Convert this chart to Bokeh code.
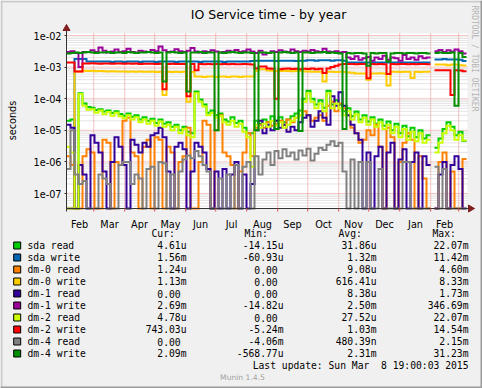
import numpy as np
import pandas as pd
from bokeh.plotting import figure
from bokeh.models import Range1d, FixedTicker, CustomJSTickFormatter
from bokeh.core.properties import value
from bokeh.embed import file_html
from bokeh.resources import INLINE

nan = float("nan")

# ---------------- texts ----------------
TITLE = "IO Service time - by year"
Y_LABEL = "seconds"
WATERMARK = "RRDTOOL / TOBI OETIKER"
LAST_UPDATE = "Last update: Sun Mar\u00a0\u00a08 19:00:03 2015"
VERSION = "Munin 1.4.5"
HEADERS = ["Cur:", "Min:", "Avg:", "Max:"]

# ---------------- time axis ----------------
START = "2014-02-01 19:00"
MONTH_STARTS = ["2014-02-01", "2014-03-01", "2014-04-01", "2014-05-01", "2014-06-01",
                "2014-07-01", "2014-08-01", "2014-09-01", "2014-10-01", "2014-11-01",
                "2014-12-01", "2015-01-01", "2015-02-01", "2015-03-01"]
MONTH_LABELS = ["Feb", "Mar", "Apr", "May", "Jun", "Jul", "Aug", "Sep", "Oct", "Nov",
                "Dec", "Jan", "Feb"]
Y_TICKS = [1e-7, 1e-6, 1e-5, 1e-4, 1e-3, 1e-2]
SAMPLE_STEP = 4  # days per sample

# ---------------- series ----------------
NAMES = ["sda read", "sda write", "dm-0 read", "dm-0 write", "dm-1 read",
         "dm-1 write", "dm-2 read", "dm-2 write", "dm-4 read", "dm-4 write"]
COLORS = ["#00CC00", "#0066B3", "#FF8000", "#FFCC00", "#330099",
          "#990099", "#CCFF00", "#FF0000", "#808080", "#008F00"]

SDA_READ = [
    2.0e-5, 2.2e-5, 0, 1.5e-4, 7.0e-5, 5.5e-5, 5.2e-5, 4.4e-5, 4.6e-5, 3.9e-5,
    4.2e-5, 3.5e-5, 4.0e-5, 3.3e-5, 2.9e-5, 3.4e-5, 2.7e-5, 3.0e-5, 2.2e-5, 2.6e-5,
    2.0e-5, 2.3e-5, 1.7e-5, 2.2e-5, 1.6e-5, 1.8e-5, 1.3e-5, 1.5e-5, 1.0e-5, 1.3e-5,
    9.0e-6, 8.0e-6, 1.7e-4, 9.5e-5, 6.5e-5, 3.6e-5, 4.2e-5, 3.0e-5, 3.4e-5, 2.2e-5,
    1.9e-5, 2.6e-5, 1.7e-5, 2.0e-5, 1.2e-5, 8.0e-6, 8.0e-6, 2.0e-5, 1.6e-5, 2.2e-5,
    1.8e-5, 2.8e-5, 2.0e-5, 2.6e-5, 1.8e-5, 2.2e-5, 2.8e-5, 3.4e-5, 4.2e-5, 1.0e-4,
    1.8e-4, 1.0e-4, 6.5e-5, 9.0e-5, 5.2e-5, 1.8e-4, 6.5e-5, 9.0e-5, 6.5e-5, 4.0e-5,
    5.0e-5, 2.8e-5, 3.9e-5, 2.2e-5, 3.0e-5, 1.9e-5, 2.6e-5, 1.6e-5, 2.2e-5, 1.4e-5,
    1.9e-5, 1.0e-5, 1.6e-5, 8.0e-6, 1.4e-5, 6.5e-6, 1.2e-5, 6.0e-6, 1.0e-5, 5.5e-6,
    7.0e-6, nan, 2.8e-6, 5.5e-6, 1.1e-5, 1.8e-5, 1.3e-5, 7.0e-6, 9.0e-6, 4.61e-6]
SDA_WRITE = [
    0, 0, 1.8e-3, 1.8e-3, 1.8e-3, 1.5e-3, 1.5e-3, 1.5e-3, 1.5e-3, 1.5e-3,
    1.5e-3, 1.45e-3, 1.5e-3, 1.5e-3, 1.45e-3, 1.5e-3, 1.5e-3, 1.5e-3, 1.45e-3, 1.5e-3,
    1.5e-3, 1.5e-3, 1.45e-3, 1.5e-3, 1.5e-3, 1.5e-3, 1.5e-3, 1.45e-3, 1.5e-3, 1.5e-3,
    1.5e-3, 1.5e-3, 1.5e-3, 1.45e-3, 1.5e-3, 1.5e-3, 1.5e-3, 1.5e-3, 1.5e-3, 1.45e-3,
    1.5e-3, 1.5e-3, 1.5e-3, 1.5e-3, 1.5e-3, 1.5e-3, 1.55e-3, 1.6e-3, 1.6e-3, 1.6e-3,
    1.6e-3, 1.6e-3, 1.55e-3, 1.6e-3, 1.6e-3, 1.6e-3, 1.6e-3, 1.55e-3, 1.6e-3, 1.6e-3,
    1.65e-3, 1.65e-3, 1.6e-3, 1.65e-3, 1.65e-3, 1.65e-3, 1.6e-3, 1.65e-3, 1.65e-3, 1.6e-3,
    1.4e-3, 1.4e-3, 1.4e-3, 1.4e-3, 1.4e-3, 1.4e-3, 1.4e-3, 1.4e-3, 1.4e-3, 1.4e-3,
    1.4e-3, 1.4e-3, 1.4e-3, 1.4e-3, 1.4e-3, 1.4e-3, 1.4e-3, 1.4e-3, 1.4e-3, 1.4e-3,
    1.4e-3, nan, 1.75e-3, 1.75e-3, 1.8e-3, 1.75e-3, 1.75e-3, 1.75e-3, 1.7e-3, 1.56e-3]
DM0_READ = [
    1.5e-6, 8e-7, 0, 0, 1.5e-6, 2.5e-6, 2e-6, 0, 0, 5e-6,
    4e-6, 0, 1e-6, 8e-7, 2e-5, 2.5e-5, 2e-6, 1.5e-6, 0, 3e-6,
    5e-6, 0, 6e-6, 5e-6, 0, 3e-6, 2e-6, 0, 1e-6, 1.5e-6,
    1.2e-5, 0, 0, 1e-6, 2e-5, 1.5e-5, 0, 1e-5, 3e-5, 2e-6,
    1.5e-6, 8e-7, 0, 5e-7, 2e-6, 8e-6, 1.5e-6, 1.2e-5, 1.5e-5, 1.2e-5,
    1.8e-5, 1.4e-5, 1.6e-5, 2e-5, 1.5e-5, 2.2e-5, 1.8e-5, 2.5e-5, 3e-5, 4e-5,
    3e-5, 2e-5, 2.5e-5, 3e-5, 2e-5, 6e-5, 8e-5, 4e-5, 7e-5, 5e-5,
    3e-5, 1.2e-5, 8e-6, 4e-6, 5e-6, 1e-5, 7e-6, 1.5e-5, 3e-6, 0,
    1.2e-5, 6e-6, 0, 1e-6, 4e-6, 8e-6, 5e-6, 0, 1.5e-6, 3e-7,
    0, nan, 0, 1e-6, 2e-6, 0, 5e-7, 0, 0, 1.24e-6]
DM0_WRITE = [
    0, 0, 7.3e-4, 7.3e-4, 7.6e-4, 7.5e-4, 7.6e-4, 7.4e-4, 7.5e-4, 7.4e-4,
    7.3e-4, 7.4e-4, 7.3e-4, 7.2e-4, 7.3e-4, 7.1e-4, 7.2e-4, 7.1e-4, 7.2e-4, 7.1e-4,
    7.1e-4, 7.2e-4, 7.0e-4, 7.1e-4, 1.3e-4, 7.1e-4, 7.0e-4, 7.1e-4, 7.0e-4, 7.1e-4,
    8e-5, 7.0e-4, 5.0e-4, 5.0e-4, 4.9e-4, 5.0e-4, 5.0e-4, 4.9e-4, 5.0e-4, 5.0e-4,
    4.9e-4, 5.0e-4, 5.0e-4, 4.9e-4, 5.0e-4, 5.0e-4, 5.0e-4, 7.5e-4, 8.5e-4, 8.5e-4,
    7.8e-4, 7.6e-4, 7.5e-4, 7.5e-4, 7.6e-4, 7.5e-4, 7.4e-4, 7.5e-4, 7.5e-4, 7.3e-4,
    7.2e-4, 7.1e-4, 7.1e-4, 7.1e-4, 3.5e-4, 7.1e-4, 7.1e-4, 7.0e-4, 7.1e-4, 7.0e-4,
    6.8e-4, 6.6e-4, 6.3e-4, 6.3e-4, 6.3e-4, 4.0e-4, 6.3e-4, 6.3e-4, 6.4e-4, 6.3e-4,
    2.6e-4, 7.1e-4, 7.1e-4, 7.0e-4, 7.1e-4, 7.1e-4, 4.5e-4, 7.1e-4, 7.0e-4, 7.1e-4,
    7.1e-4, nan, 1.2e-3, 1.2e-3, 1.2e-3, 1.15e-3, 1.2e-3, 1.2e-3, 1.15e-3, 1.13e-3]
DM1_READ = [
    1.5e-5, 1.2e-5, 0, 8e-7, 4e-7, 0, 7e-6, 4e-6, 2e-6, 5e-7,
    0, 1e-6, 6e-6, 3e-6, 8e-7, 0, 5e-6, 3.5e-6, 2e-6, 4e-6,
    3e-6, 7e-6, 8e-6, 1.2e-5, 6e-6, 5e-7, 0, 3e-6, 4e-6, 2.5e-6,
    0, 5e-7, 4e-6, 3e-6, 2e-6, 6e-7, 0, 5e-7, 0, 6e-7,
    0, 4e-7, 1e-6, 0, 4e-7, 0, 2e-7, 1e-5, 2e-5, 8e-6,
    1.5e-5, 1e-5, 2e-5, 1.2e-5, 1.5e-5, 9e-6, 1.3e-5, 1e-5, 1.8e-5, 2.5e-5,
    3e-5, 1.3e-5, 2e-5, 4e-5, 2.5e-5, 1.5e-5, 1.2e-4, 6e-5, 1.6e-4, 6e-5,
    3e-5, 1.5e-5, 8e-6, 5e-6, 0, 2e-6, 0, 1.5e-6, 3e-6, 0,
    2e-6, 4e-6, 0, 1.2e-6, 2.5e-6, 0, 1e-6, 2e-6, 0, 1.5e-6,
    8e-7, nan, 0, 4e-7, 1e-6, 0, 8e-7, 1.5e-6, 6e-7, 0]
DM1_WRITE = [
    3.0e-3, 3.2e-3, 2.8e-3, 1.0e-3, 3.0e-3, 3.0e-3, 3.4e-3, 3.0e-3, 4.2e-3, 3.3e-3,
    2.9e-3, 3.1e-3, 3.6e-3, 3.0e-3, 3.2e-3, 3.8e-3, 3.0e-3, 2.9e-3, 3.3e-3, 3.1e-3,
    3.0e-3, 3.5e-3, 3.2e-3, 4.5e-3, 3.4e-3, 3.0e-3, 3.1e-3, 3.7e-3, 3.2e-3, 3.0e-3,
    3.3e-3, 4.0e-3, 3.1e-3, 2.9e-3, 3.2e-3, 3.0e-3, 3.4e-3, 3.1e-3, 2.9e-3, 3.0e-3,
    3.3e-3, 3.1e-3, 3.5e-3, 3.0e-3, 3.2e-3, 3.6e-3, 3.1e-3, 2.8e-3, 3.3e-3, 2.5e-3,
    2.8e-3, 3.2e-3, 3.0e-3, 3.4e-3, 3.1e-3, 3.0e-3, 3.6e-3, 3.2e-3, 3.0e-3, 3.3e-3,
    3.1e-3, 3.5e-3, 3.2e-3, 3.0e-3, 3.8e-3, 3.1e-3, 3.0e-3, 3.2e-3, 2.9e-3, 3.0e-3,
    2.0e-3, 1.8e-3, 2.2e-3, 1.7e-3, 1.9e-3, 2.1e-3, 1.6e-3, 2.0e-3, 1.8e-3, 2.3e-3,
    1.7e-3, 2.0e-3, 1.9e-3, 1.6e-3, 2.4e-3, 1.8e-3, 2.0e-3, 1.7e-3, 2.2e-3, 1.9e-3,
    2.0e-3, nan, 3.2e-3, 3.5e-3, 3.0e-3, 3.4e-3, 3.1e-3, 3.6e-3, 3.2e-3, 2.69e-3]
DM2_READ = [
    3e-6, 2e-6, 0, 1.4e-4, 6e-5, 4.5e-5, 4.6e-5, 3.6e-5, 4.2e-5, 3.2e-5,
    3.8e-5, 2.9e-5, 3.6e-5, 2.8e-5, 2.4e-5, 3.0e-5, 2.2e-5, 2.6e-5, 1.8e-5, 2.2e-5,
    1.6e-5, 2.0e-5, 1.4e-5, 1.9e-5, 1.3e-5, 1.5e-5, 1.0e-5, 1.3e-5, 8e-6, 1.1e-5,
    7e-6, 6e-6, 1.5e-4, 8e-5, 5.7e-5, 3e-5, 3.5e-5, 2.5e-5, 2.8e-5, 1.8e-5,
    1.5e-5, 2e-5, 1.3e-5, 1.6e-5, 9e-6, 6e-6, 7e-7, 1.5e-5, 1.2e-5, 1.6e-5,
    1.3e-5, 2e-5, 1.4e-5, 1.8e-5, 1.2e-5, 1.5e-5, 2e-5, 2.5e-5, 3e-5, 8e-5,
    1.5e-4, 8e-5, 5e-5, 7e-5, 4e-5, 1.5e-4, 5e-5, 7e-5, 5e-5, 3e-5,
    4e-5, 2.2e-5, 3.2e-5, 1.8e-5, 2.5e-5, 1.5e-5, 2.2e-5, 1.3e-5, 1.8e-5, 1.1e-5,
    1.5e-5, 8e-6, 1.3e-5, 6e-6, 1.1e-5, 5e-6, 9e-6, 4.5e-6, 8e-6, 4e-6,
    5e-6, nan, 2e-6, 4e-6, 8e-6, 1.4e-5, 1e-5, 5e-6, 7e-6, 4.78e-6]
DM2_WRITE = [
    1.4e-3, 1.4e-3, 7.3e-4, 7.3e-4, 1.3e-3, 1.3e-3, 1.32e-3, 1.3e-3, 1.28e-3, 1.3e-3,
    1.3e-3, 1.28e-3, 1.3e-3, 1.3e-3, 1.27e-3, 1.3e-3, 1.28e-3, 1.3e-3, 1.26e-3, 1.28e-3,
    1.27e-3, 1.28e-3, 1.26e-3, 1.27e-3, 2.0e-4, 1.26e-3, 1.27e-3, 1.25e-3, 1.26e-3, 1.25e-3,
    1.2e-4, 1.25e-3, 8.0e-4, 1.25e-3, 1.24e-3, 1.25e-3, 1.23e-3, 1.25e-3, 1.24e-3, 1.25e-3,
    1.24e-3, 1.25e-3, 1.23e-3, 1.24e-3, 1.25e-3, 1.22e-3, 1.2e-3, 9.0e-4, 1.05e-3, 1.05e-3,
    9.0e-4, 8.8e-4, 1.0e-4, 8.6e-4, 8.8e-4, 9.0e-4, 8.7e-4, 8.8e-4, 8.6e-4, 8.8e-4,
    8.7e-4, 9.0e-4, 8.6e-4, 8.8e-4, 6.5e-4, 9.0e-4, 1.0e-3, 1.1e-3, 1.2e-3, 1.25e-3,
    1.25e-3, 1.26e-3, 1.24e-3, 1.25e-3, 1.25e-3, 4.4e-4, 1.25e-3, 1.24e-3, 1.25e-3, 1.24e-3,
    6.0e-4, 1.25e-3, 1.24e-3, 1.25e-3, 1.26e-3, 1.24e-3, 1.25e-3, 1.24e-3, 1.25e-3, 1.25e-3,
    1.24e-3, nan, 8.0e-4, 8.0e-4, 7.9e-4, 8.0e-4, 1.3e-4, 8.0e-4, 7.8e-4, 7.43e-4]
DM4_READ = [
    6e-7, 1e-5, 4e-7, 2e-7, 2.5e-7, 0, 0, 0, 4e-7, 3e-7,
    2e-7, 0, 0, 8e-7, 1e-6, 1e-6, 2e-7, 4e-7, 3e-7, 0,
    6e-7, 7e-7, 0, 1e-6, 9e-7, 0, 4e-7, 0, 5e-7, 1.2e-6,
    1.6e-6, 1.3e-6, 2.2e-6, 1.5e-6, 8e-7, 5e-7, 0, 0, 3e-7, 0,
    4e-7, 0, 8e-7, 0, 7e-7, 1e-6, 0, 1.5e-6, 4e-7, 1.2e-6,
    2e-6, 8e-7, 2.2e-6, 1.3e-6, 2.5e-6, 1.5e-6, 2e-6, 1.2e-6, 2.3e-6, 1.6e-6,
    2.6e-6, 1.1e-6, 1.8e-6, 2.8e-6, 2.4e-6, 3.5e-6, 4.5e-6, 3.2e-6, 4e-6, 5e-7,
    0, 1.2e-6, 0, 1e-6, 0, 1e-6, 0, 0, 6e-7, 0,
    0, 0, 0, 0, 1e-6, 1e-6, 0, 0, 0, 0,
    0, nan, 7e-7, 0, 6e-7, 0, 0, 0, 0, 0]
DM4_WRITE = [
    2.7e-3, 2.8e-3, 2.9e-3, 2.8e-3, 2.9e-3, 3.0e-3, 2.9e-3, 2.8e-3, 2.9e-3, 2.9e-3,
    3.0e-3, 2.8e-3, 2.9e-3, 2.9e-3, 2.8e-3, 3.0e-3, 2.9e-3, 2.8e-3, 2.9e-3, 2.9e-3,
    3.0e-3, 2.9e-3, 2.8e-3, 2.9e-3, 3.5e-4, 2.9e-3, 3.0e-3, 2.9e-3, 2.8e-3, 2.9e-3,
    1.7e-4, 2.9e-3, 2.9e-3, 3.0e-3, 2.8e-3, 2.9e-3, 2.9e-3, 1.0e-5, 2.9e-3, 2.8e-3,
    2.9e-3, 3.0e-3, 2.9e-3, 2.8e-3, 2.9e-3, 2.9e-3, 2.8e-3, 1.0e-5, 2.9e-3, 2.9e-3,
    2.8e-3, 2.9e-3, 1.1e-5, 2.9e-3, 3.0e-3, 2.9e-3, 2.8e-3, 2.9e-3, 9.5e-6, 2.9e-3,
    2.9e-3, 2.8e-3, 2.9e-3, 2.9e-3, 3.0e-3, 2.8e-3, 2.9e-3, 2.8e-3, 2.7e-3, 1.1e-5,
    2.8e-3, 2.7e-3, 2.8e-3, 2.8e-3, 2.7e-3, 1.1e-3, 2.8e-3, 2.7e-3, 2.8e-3, 2.8e-3,
    1.5e-3, 2.7e-3, 2.8e-3, 2.8e-3, 2.7e-3, 2.8e-3, 2.8e-3, 2.7e-3, 2.8e-3, 2.8e-3,
    2.7e-3, nan, 2.8e-3, 2.9e-3, 2.8e-3, 2.8e-3, 2.9e-3, 6.0e-5, 2.8e-3, 2.09e-3]
SERIES = [SDA_READ, SDA_WRITE, DM0_READ, DM0_WRITE, DM1_READ,
          DM1_WRITE, DM2_READ, DM2_WRITE, DM4_READ, DM4_WRITE]

CUR = ["4.61u", "1.56m", "1.24u", "1.13m", "0.00", "2.69m", "4.78u", "743.03u", "0.00", "2.09m"]
MIN = ["-14.15u", "-60.93u", "0.00", "0.00", "0.00", "-14.82u", "0.00", "-5.24m", "-4.06m", "-568.77u"]
AVG = ["31.86u", "1.32m", "9.08u", "616.41u", "8.38u", "2.50m", "27.52u", "1.03m", "480.39n", "2.31m"]
MAX = ["22.07m", "11.42m", "4.60m", "8.33m", "1.73m", "346.69m", "22.07m", "14.54m", "2.15m", "31.23m"]

# ---------------- layout geometry (page pixels; Bokeh's page has no body margin) ----------------
MARGIN = 0
W, H = 482, 388
PX_DECADE = 31.6
Y_TOP_TICK_PX = 35.0      # page y of 1e-02
CANVAS_TOP_PX, AXIS_PX = 33.0, 208.0
AXIS_LEFT_PX = 66.0       # page x of day 0
BG = "#F0F0F0"
SANS = "DejaVu Sans"
MONO = "DejaVu Sans Mono"
FS = "9.7px"


def y_at(page_y):
    return 10 ** (-2 - (page_y - Y_TOP_TICK_PX) / PX_DECADE)


def dx(page_x):
    return page_x - AXIS_LEFT_PX


Y_CANVAS_TOP = y_at(CANVAS_TOP_PX)
Y_AXIS = y_at(AXIS_PX)
N = len(SDA_READ)
X_END = N * SAMPLE_STEP

t0 = pd.Timestamp(START)
m_days = ((pd.to_datetime(MONTH_STARTS) - t0) / pd.Timedelta(days=1)).to_numpy()
grid_days = [float(d) for d in m_days if 0 < d < X_END + 1]
mid_days = [int(round((a + b) / 2)) for a, b in zip(m_days[:-1], m_days[1:])]

p = figure(width=W, height=H,
           x_range=Range1d(dx(MARGIN), dx(MARGIN + W)),
           y_range=Range1d(y_at(MARGIN + H), y_at(MARGIN)), y_axis_type="log",
           output_backend="svg", toolbar_location=None, title_location=None,
           min_border=0, min_border_left=0, min_border_right=0,
           min_border_top=0, min_border_bottom=0,
           background_fill_color=BG, border_fill_color=BG, outline_line_color=None)
p.grid.visible = False

# image bevel (light top/left, dark bottom/right)
p.quad(left=[dx(0), dx(0)], right=[dx(W), dx(2)], bottom=[y_at(2), y_at(H)],
       top=[y_at(0), y_at(0)], fill_color="#CBCBCB", line_color=None)
p.quad(left=[dx(0), dx(W - 2)], right=[dx(W), dx(W)], bottom=[y_at(H), y_at(H)],
       top=[y_at(H - 2), y_at(0)], fill_color="#999999", line_color=None)

# white canvas
p.quad(left=[0], right=[X_END + 1], bottom=[Y_AXIS], top=[Y_CANVAS_TOP],
       fill_color="white", line_color=None)

# grid
gy_minor, gy_major = [], []
for e in range(-8, -1):
    for k in range(1, 10):
        v = k * 10.0 ** e
        if Y_AXIS < v <= Y_CANVAS_TOP:
            (gy_major if k == 1 else gy_minor).append(v)
p.segment(x0=[0] * len(gy_minor), x1=[X_END + 1] * len(gy_minor), y0=gy_minor, y1=gy_minor,
          line_color="#C8C8C8", line_width=1, line_dash="1 1")
p.segment(x0=[0] * len(gy_major), x1=[X_END + 1] * len(gy_major), y0=gy_major, y1=gy_major,
          line_color="#F08A8A", line_width=1, line_dash="1 1")
p.segment(x0=grid_days, x1=grid_days, y0=[Y_AXIS] * len(grid_days),
          y1=[Y_CANVAS_TOP] * len(grid_days),
          line_color="#F08A8A", line_width=1, line_dash="1 1")

# data (rrd steps)
days = np.arange(N) * SAMPLE_STEP
for vals, col in zip(SERIES, COLORS):
    v = np.array(vals, dtype=float)
    v = np.where(np.isnan(v) | (v > 0), v, Y_AXIS)
    xs = np.column_stack([days, days + SAMPLE_STEP]).ravel()
    ys = np.repeat(v, 2)
    p.line(xs, ys, line_color=col, line_width=2, line_join="miter")

# axis lines, month ticks, arrows
p.segment(x0=[0], x1=[dx(471)], y0=[Y_AXIS], y1=[Y_AXIS], line_color="#333333", line_width=1)
p.segment(x0=[0], x1=[0], y0=[y_at(AXIS_PX + 3)], y1=[y_at(28)], line_color="#333333",
          line_width=1)
p.segment(x0=grid_days, x1=grid_days, y0=[Y_AXIS] * len(grid_days),
          y1=[y_at(AXIS_PX + 3)] * len(grid_days), line_color="#E05050", line_width=1)
p.scatter(x=[0], y=[y_at(28)], marker="triangle", size=7, color="#7F1F1F")
p.scatter(x=[dx(470)], y=[Y_AXIS], marker="triangle", size=7, angle=-np.pi / 2,
          color="#7F1F1F")

# y axis (library axis, pinned at day 0)
p.yaxis.fixed_location = 0
p.yaxis.ticker = FixedTicker(ticks=Y_TICKS)
p.yaxis.formatter = CustomJSTickFormatter(
    code='const s = tick.toExponential(0); return s.replace(/e([+-])(\\d)$/, (m, a, b) => "e" + a + "0" + b);')
p.yaxis.minor_tick_line_color = None
p.yaxis.major_tick_out = 2
p.yaxis.major_tick_in = 0
p.yaxis.major_label_standoff = 3
p.yaxis.axis_line_color = None
p.yaxis.major_tick_line_color = "#333333"
p.yaxis.major_label_text_font = SANS
p.yaxis.major_label_text_font_size = FS
p.yaxis.major_label_text_color = "#000000"

# x axis (library axis, pinned at the canvas bottom)
p.xaxis.fixed_location = Y_AXIS
p.xaxis.ticker = FixedTicker(ticks=mid_days, minor_ticks=[])
p.xaxis.major_label_overrides = {d: lab for d, lab in zip(mid_days, MONTH_LABELS)}
p.xaxis.axis_line_color = None
p.xaxis.major_tick_line_color = None
p.xaxis.minor_tick_line_color = None
p.xaxis.major_label_standoff = 4
p.xaxis.major_label_text_font = SANS
p.xaxis.major_label_text_font_size = FS
p.xaxis.major_label_text_color = "#000000"

# title, unit label, watermark
p.text(x=[dx(268)], y=[y_at(14)], text=[TITLE], text_align="center", text_baseline="middle",
       text_font=value(SANS), text_font_size=value("12.5px"), text_color="#000000")
p.text(x=[dx(11.5)], y=[y_at(120)], text=[Y_LABEL], angle=np.pi / 2, text_align="center",
       text_baseline="middle", text_font=value(SANS), text_font_size=value(FS),
       text_color="#000000")
p.text(x=[dx(474)], y=[y_at(5)], text=[WATERMARK], angle=-np.pi / 2, text_align="left",
       text_baseline="middle", text_font=value(MONO), text_font_size=value("8px"),
       text_color="#B4B4B4")

# legend table
CW = 5.84
row_py = [245 + 12 * k for k in range(len(NAMES))]
row_y = [y_at(py) for py in row_py]
p.scatter(x=[dx(16.7)] * len(NAMES), y=row_y, marker="square", size=7,
          fill_color=COLORS, line_color="#000000", line_width=1)
p.text(x=[dx(27)] * len(NAMES), y=row_y, text=NAMES, text_font=value(MONO),
       text_font_size=value(FS), text_baseline="middle", text_align="left",
       text_color="#000000")
for col_vals, right in zip([CUR, MIN, AVG, MAX], [186, 283, 376, 468]):
    xs = [dx(right - (CW if s[-1].isdigit() else 0)) for s in col_vals]
    p.text(x=xs, y=row_y, text=col_vals, text_font=value(MONO),
           text_font_size=value(FS), text_baseline="middle", text_align="right",
           text_color="#000000")
p.text(x=[dx(v) for v in [151, 244, 338, 432]], y=[y_at(233)] * 4, text=HEADERS,
       text_font=value(MONO), text_font_size=value(FS), text_baseline="middle",
       text_align="left", text_color="#000000")
p.text(x=[dx(468)], y=[y_at(365)], text=[LAST_UPDATE], text_font=value(MONO),
       text_font_size=value(FS), text_baseline="middle", text_align="right",
       text_color="#000000")
p.text(x=[dx(242)], y=[y_at(377)], text=[VERSION], text_font=value(SANS),
       text_font_size=value("7.6px"), text_baseline="middle", text_align="center",
       text_color="#A0A0A0")

open("out.html", "w").write(file_html(p, INLINE))
